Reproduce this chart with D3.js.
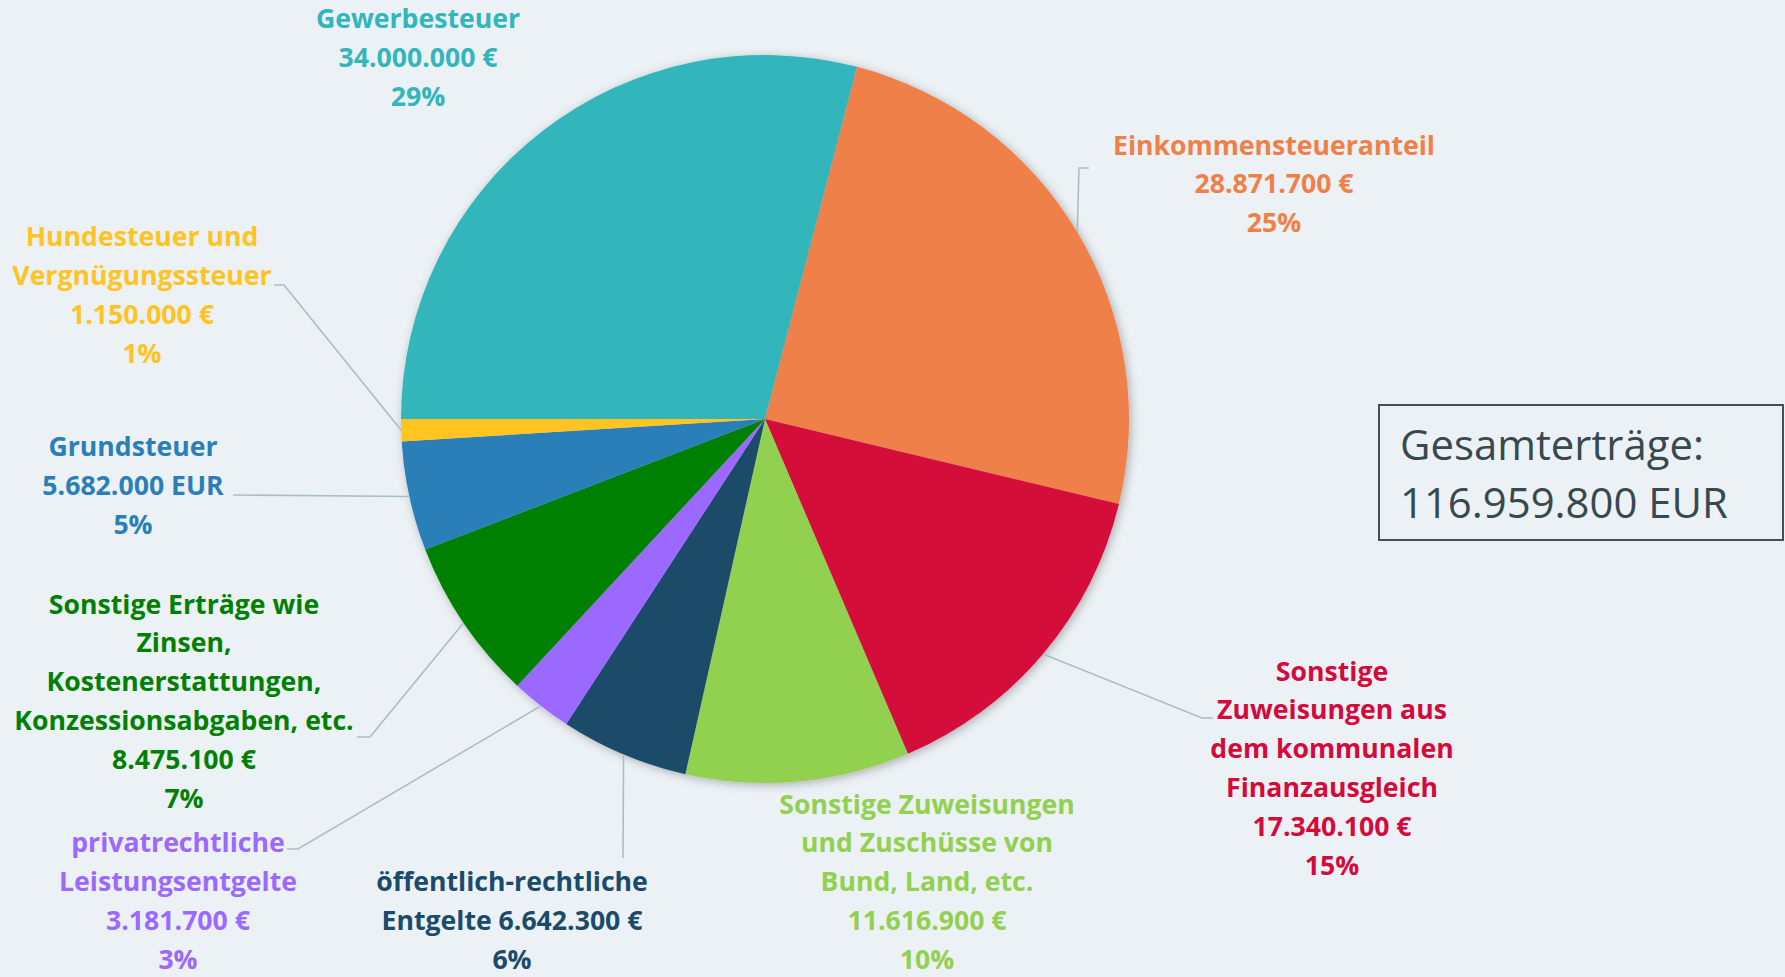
<!DOCTYPE html>
<html>
<head>
<meta charset="utf-8">
<script src="https://cdn.jsdelivr.net/npm/d3@7"></script>
<style>
  html, body { margin: 0; padding: 0; background: #ECF1F5; overflow: hidden; }
  svg { display: block; }
</style>
</head>
<body>
<svg id="chart" width="1785" height="977"></svg>
<script>
// ---------------- DATA ----------------
const categories = [
  "Gewerbesteuer",
  "Einkommensteueranteil",
  "Sonstige Zuweisungen aus dem kommunalen Finanzausgleich",
  "Sonstige Zuweisungen und Zuschüsse von Bund, Land, etc.",
  "öffentlich-rechtliche Entgelte",
  "privatrechtliche Leistungsentgelte",
  "Sonstige Erträge wie Zinsen, Kostenerstattungen, Konzessionsabgaben, etc.",
  "Grundsteuer",
  "Hundesteuer und Vergnügungssteuer"
];
const values = [34000000, 28871700, 17340100, 11616900, 6642300, 3181700, 8475100, 5682000, 1150000];
const nameLines = [
  ["Gewerbesteuer"],
  ["Einkommensteueranteil"],
  ["Sonstige", "Zuweisungen aus", "dem kommunalen", "Finanzausgleich"],
  ["Sonstige Zuweisungen", "und Zuschüsse von", "Bund, Land, etc."],
  ["öffentlich-rechtliche", "Entgelte"],
  ["privatrechtliche", "Leistungsentgelte"],
  ["Sonstige Erträge wie", "Zinsen,", "Kostenerstattungen,", "Konzessionsabgaben, etc."],
  ["Grundsteuer"],
  ["Hundesteuer und", "Vergnügungssteuer"]
];
const currencyUnits = ["€", "€", "€", "€", "€", "€", "€", "EUR", "€"];
const valueOnLastNameLine = [false, false, false, false, true, false, false, false, false];
const totalLabel = ["Gesamterträge:", "116.959.800 EUR"];

// ---------------- STYLE / LAYOUT ----------------
const colors = ["#31B6BC", "#EF8048", "#D40A3B", "#92D050", "#1A4B6B", "#9B69FF", "#008000", "#2A7FB8", "#FFC423"];
const W = 1785, H = 977;
const cx = 765, cy = 419, R = 364;
const lineStep = 38.85;
// label anchor: centre x and first baseline y; leader: label-side points (pie point appended)
const labelLayout = [
  { x: 418,  y: 28.3,  leader: null },
  { x: 1274, y: 154.5, leader: [[1089, 168], [1079, 168]] },
  { x: 1332, y: 680.5, leader: [[1213, 718], [1202, 718]] },
  { x: 927,  y: 813.5, leader: null },
  { x: 512,  y: 891,   leader: [[623, 858]] },
  { x: 178,  y: 852,   leader: [[287, 849], [298, 849]] },
  { x: 184,  y: 613.5, leader: [[357, 737], [370, 737]] },
  { x: 133,  y: 456,   leader: [[233, 495]] },
  { x: 142,  y: 246,   leader: [[274, 285], [284, 285]] }
];
const FONT = "'Open Sans', Lato, 'DejaVu Sans', sans-serif";

const svg = d3.select("#chart");
svg.append("rect").attr("width", W).attr("height", H).attr("fill", "#ECF1F5");

// fit font size to the reference text widths
function fitSize(weight, pairs, base) {
  let meas = 0, ref = 0;
  pairs.forEach(([t, w]) => {
    const n = svg.append("text").attr("font-family", FONT).attr("font-weight", weight)
      .attr("font-size", base).text(t);
    meas += n.node().getComputedTextLength();
    ref += w;
    n.remove();
  });
  return base * ref / meas;
}
const labelSize = fitSize(700, [["Gewerbesteuer", 204], ["Einkommensteueranteil", 315], ["Grundsteuer", 166],
  ["5.682.000 EUR", 191], ["öffentlich-rechtliche", 268], ["Sonstige Zuweisungen", 293], ["Entgelte 6.642.300 €", 268]], 32);
const boxSize = fitSize(400, [["Gesamterträge:", 300], ["116.959.800 EUR", 332]], 46);

// shadow filter
const defs = svg.append("defs");
const f = defs.append("filter").attr("id", "shadow").attr("x", "-20%").attr("y", "-20%").attr("width", "140%").attr("height", "140%");
f.append("feDropShadow").attr("dx", 2).attr("dy", 2).attr("stdDeviation", 5)
  .attr("flood-color", "#000").attr("flood-opacity", 0.28);

// ---------------- PIE ----------------
const data = categories.map((c, i) => ({ name: c, value: values[i], i }));
const total = d3.sum(values);
const pie = d3.pie().value(d => d.value).sort(null).startAngle(-Math.PI / 2).endAngle(3 * Math.PI / 2);
const arcs = pie(data);
const arc = d3.arc().innerRadius(0).outerRadius(R);

const gPie = svg.append("g").attr("transform", `translate(${cx},${cy})`).attr("filter", "url(#shadow)");
gPie.selectAll("path").data(arcs).join("path")
  .attr("d", arc)
  .attr("fill", d => colors[d.data.i]);

// ---------------- LEADERS ----------------
function edgePoint(d) {
  const a = (d.startAngle + d.endAngle) / 2;
  return [cx + R * Math.sin(a), cy - R * Math.cos(a)];
}
const line = d3.line();
svg.append("g").selectAll("path")
  .data(arcs.filter(d => labelLayout[d.data.i].leader))
  .join("path")
  .attr("d", d => line(labelLayout[d.data.i].leader.concat([edgePoint(d)])))
  .attr("fill", "none")
  .attr("stroke", "#AABFC5")
  .attr("stroke-width", 1.6);

// ---------------- LABELS ----------------
const de = d3.formatLocale({ decimal: ",", thousands: ".", grouping: [3], currency: ["", " €"] });
const fmt = de.format(",.0f");
const pct = v => Math.round(v / total * 100) + "%";

const gLab = svg.append("g");
arcs.forEach(d => {
  const i = d.data.i;
  const L = labelLayout[i];
  let lines = nameLines[i].slice();
  const valStr = fmt(values[i]) + " " + currencyUnits[i];
  if (valueOnLastNameLine[i]) lines[lines.length - 1] = lines[lines.length - 1] + " " + valStr;
  else lines.push(valStr);
  lines.push(pct(values[i]));
  const t = gLab.append("text")
    .attr("font-family", FONT).attr("font-weight", 700).attr("font-size", labelSize)
    .attr("fill", colors[i]).attr("text-anchor", "middle");
  lines.forEach((s, k) => {
    t.append("tspan").attr("x", L.x).attr("y", L.y + k * lineStep).text(s);
  });
});

// ---------------- TOTAL BOX ----------------
svg.append("rect").attr("x", 1379).attr("y", 405).attr("width", 404).attr("height", 135)
  .attr("fill", "none").attr("stroke", "#3E5258").attr("stroke-width", 2);
const tb = svg.append("text").attr("font-family", FONT).attr("font-size", boxSize).attr("fill", "#37494F");
totalLabel.forEach((s, k) => tb.append("tspan").attr("x", 1400).attr("y", 460 + k * 58).text(s));
</script>
</body>
</html>
